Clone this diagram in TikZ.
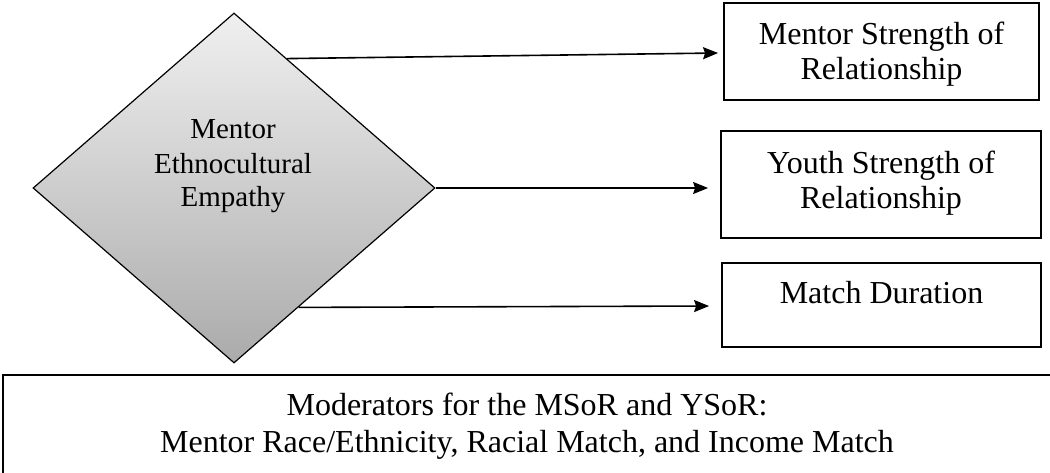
\documentclass[tikz,border=0pt]{standalone}
\usepackage{fontspec}
\setmainfont{Liberation Serif}
\usetikzlibrary{arrows.meta,shapes.geometric,calc}
\begin{document}
\begin{tikzpicture}[x=1pt,y=-1pt,
  box/.style={draw, line width=1.8pt, inner sep=0pt},
  txt/.style={font=\fontsize{32}{35}\selectfont, inner sep=0pt, anchor=base},
  dtxt/.style={font=\fontsize{29}{34}\selectfont, inner sep=0pt, anchor=base},
  arr/.style={line width=1.6pt, -{Stealth[length=15pt,width=12pt,inset=2pt]}}
]
\useasboundingbox (0,0) rectangle (1050,472);
% diamond
\node[diamond, draw, line width=1.2pt, inner sep=0pt, minimum width=402pt, minimum height=350pt,
      top color=black!6, bottom color=black!33] (d) at (234,188) {};
\node[dtxt] (dt1) at (233,138) {Mentor};
\node[dtxt] (dt2) at (233,173) {Ethnocultural};
\node[dtxt] (dt3) at (233,206) {Empathy};
% boxes
\node[box, minimum width=315pt, minimum height=97pt] (b1) at (881.5,51.5) {};
\node[box, minimum width=320pt, minimum height=107pt] (b2) at (881,184.5) {};
\node[box, minimum width=319pt, minimum height=84pt] (b3) at (881.5,305) {};
\node[box, minimum width=1057pt, minimum height=107pt] (bm) at (531.5,428.5) {};
\node[txt] (t1a) at (881.5,44) {Mentor Strength of};
\node[txt] (t1b) at (881.5,79) {Relationship};
\node[txt] (t2a) at (881,173) {Youth Strength of};
\node[txt] (t2b) at (881,208) {Relationship};
\node[txt] (t3) at (881.5,303) {Match Duration};
\node[txt] (m1) at (527,415) {Moderators for the MSoR and YSoR:};
\node[txt] (m2) at (527,452) {Mentor Race/Ethnicity, Racial Match, and Income Match};
% arrows
\draw[arr] ($(d.north)!0.263!(d.east)$) -- ($(b1.west)+(-5,1.5)$);
\draw[arr] (d.east) -- ($(b2.west)+(-12,3.5)$);
\draw[arr] ($(d.east)!0.68!(d.south)$) -- ($(b3.west)+(-12,1)$);
\end{tikzpicture}
\end{document}
